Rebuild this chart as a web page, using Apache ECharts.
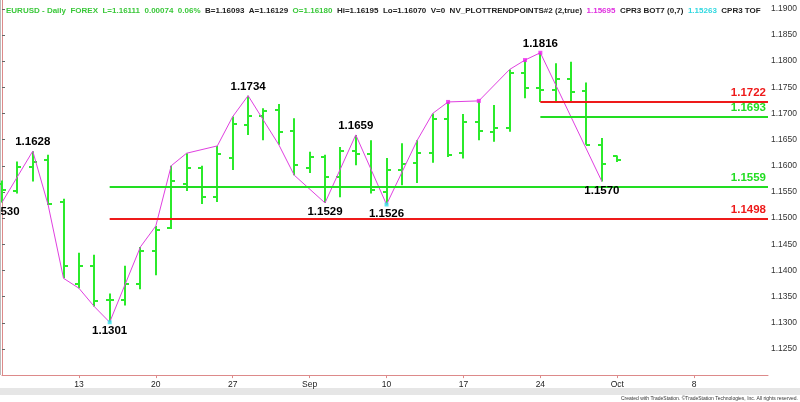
<!DOCTYPE html>
<html><head><meta charset="utf-8">
<script src="https://cdn.jsdelivr.net/npm/echarts@6/dist/echarts.min.js"></script>
<style>html,body{margin:0;padding:0;background:#fff}#c{width:800px;height:402px}</style>
</head><body><div id="c"></div>
<script>
// ---- data ----
const dates = ['Aug 6','Aug 7','Aug 8','Aug 9','Aug 10','Aug 13','Aug 14','Aug 15','Aug 16','Aug 17','Aug 20','Aug 21','Aug 22','Aug 23','Aug 24','Aug 27','Aug 28','Aug 29','Aug 30','Aug 31','Sep 3','Sep 4','Sep 5','Sep 6','Sep 7','Sep 10','Sep 11','Sep 12','Sep 13','Sep 14','Sep 17','Sep 18','Sep 19','Sep 20','Sep 21','Sep 24','Sep 25','Sep 26','Sep 27','Sep 28','Oct 1'];
const opens  = [1.1566,1.1552,1.1598,1.1611,1.1530,1.1374,1.1409,1.1344,1.1344,1.1375,1.1437,1.1482,1.1565,1.1595,1.1541,1.1615,1.1678,1.1696,1.1707,1.1667,1.1595,1.1616,1.1579,1.1628,1.1623,1.1549,1.1592,1.1605,1.1625,1.1689,1.1624,1.1684,1.1665,1.1672,1.1778,1.1749,1.1745,1.1765,1.1742,1.1640,1.1618];
const highs  = [1.1572,1.1608,1.1628,1.1621,1.1537,1.1434,1.1430,1.1356,1.1409,1.1445,1.1485,1.1600,1.1624,1.1600,1.1638,1.1694,1.1734,1.1710,1.1718,1.1691,1.1627,1.1621,1.1636,1.1659,1.1649,1.1615,1.1643,1.1649,1.1700,1.1722,1.1699,1.1724,1.1716,1.1784,1.1802,1.1816,1.1796,1.1799,1.1759,1.1653,1.16195];
const lows   = [1.1530,1.1547,1.1570,1.1525,1.1385,1.1366,1.1331,1.1301,1.1333,1.1364,1.1391,1.1479,1.1552,1.1527,1.1531,1.1592,1.1659,1.1649,1.1640,1.1582,1.1586,1.1529,1.1540,1.1601,1.1547,1.1526,1.1563,1.1567,1.1606,1.1617,1.1614,1.1649,1.1646,1.1665,1.1729,1.1722,1.1722,1.1722,1.1640,1.1570,1.1607];
const closes = [1.1553,1.1598,1.1608,1.1527,1.1409,1.1409,1.1342,1.1344,1.1375,1.1437,1.1478,1.1571,1.1595,1.1541,1.1623,1.1679,1.1696,1.1705,1.1665,1.1601,1.1616,1.1579,1.1628,1.1623,1.1554,1.1592,1.1603,1.1625,1.1689,1.1620,1.1684,1.1667,1.1672,1.1778,1.1749,1.1745,1.1765,1.1741,1.1640,1.1603,1.16111];

const tickIndex  = [5,10,15,20,25,30,35,40,45];
const tickLabels = ['13','20','27','Sep','10','17','24','Oct','8'];

const swingIdx   = [0,2,3,4,5,6,7,9,10,11,12,14,15,16,18,19,21,23,25,27,28,29,31,33,34,35,39];
const swingPrice = [1.1530,1.1628,1.1525,1.1385,1.1366,1.1331,1.1301,1.1445,1.1485,1.1600,1.1624,1.1638,1.1694,1.1734,1.1640,1.1582,1.1529,1.1659,1.1526,1.1649,1.1700,1.1722,1.1724,1.1784,1.1802,1.1816,1.1570];

const pivotIdx   = [0,2,7,16,21,23,25,35,39];
const pivotPrice = [1.1530,1.1628,1.1301,1.1734,1.1529,1.1659,1.1526,1.1816,1.1570];
const pivotSide  = ['below','above','below','above','below','above','below','above','below'];

const highDotIdx = [29,31,34,35];
const highDotPrice = [1.1722,1.1724,1.1802,1.1816];
const lowDotIdx = [7,25];
const lowDotPrice = [1.1301,1.1526];

const levelValues = [1.1722,1.1693,1.1559,1.1498];
const levelStart  = [35,35,7,7];
const levelKind   = ['resistance','support','support','resistance'];

const lastPrice = 1.16111;

// ---- styles ----
const GREEN = '#2bea2b';
const LGREEN = '#22dd22';
const RED = '#ee1a1a';
const MAGENTA = '#e040e0';
const CYAN = '#33e0e8';
const FONT = 'Liberation Sans, Arial, sans-serif';
const XMAX = 49.8;

const ohlc = dates.map((d,i)=>[i, opens[i], highs[i], lows[i], closes[i]]);

const chart = echarts.init(document.getElementById('c'), null, {renderer:'canvas'});
chart.setOption({
  animation:false,
  backgroundColor:'#fff',
  title:{
    left:1, top:2,
    text:'{g|EURUSD - Daily  FOREX  L=1.16111  0.00074  0.06%}  {k|B=1.16093  A=1.16129}  {g|O=1.16180}  {k|Hi=1.16195  Lo=1.16070  V=0  NV_PLOTTRENDPOINTS#2 (2,true)}  {m|1.15695}  {k|CPR3 BOT7 (0,7)}  {c|1.15263}  {k|CPR3 TOF}',
    textStyle:{
      fontFamily:FONT, fontSize:8,
      rich:{
        g:{color:'#3ac83a', fontSize:8, fontFamily:FONT},
        k:{color:'#222', fontSize:8, fontFamily:FONT},
        m:{color:'#e030e0', fontSize:8, fontFamily:FONT},
        c:{color:'#30d8e0', fontSize:8, fontFamily:FONT}
      }
    }
  },
  grid:{left:2, right:31, top:0, bottom:26.9, containLabel:false},
  xAxis:{
    type:'value', min:0, max:XMAX,
    axisLine:{show:true, onZero:false, lineStyle:{color:'#dd8a8a', width:1}},
    axisTick:{show:true, length:3, customValues:tickIndex, lineStyle:{color:'#dd8a8a'}},
    axisLabel:{customValues:tickIndex, margin:5, color:'#222', fontSize:8.5, fontFamily:FONT,
      formatter:v=>{const k=tickIndex.indexOf(v);return k>=0?tickLabels[k]:'';}},
    splitLine:{show:false}
  },
  yAxis:{
    type:'value', position:'right', min:1.12, max:1.19168, interval:0.005,
    axisLine:{show:true, lineStyle:{color:'#dd8a8a', width:1}},
    axisTick:{show:true, length:3, lineStyle:{color:'#666'}},
    axisLabel:{show:true, margin:3, color:'#333', fontSize:8.5, fontFamily:FONT,
      showMaxLabel:false, showMinLabel:false, formatter:v=>v.toFixed(4)},
    splitLine:{show:false}
  },
  series:[
    {
      type:'custom', name:'EURUSD', data:ohlc, encode:{x:0, y:[1,2,3,4]}, z:2,
      renderItem:(params, api)=>{
        const i = api.value(0);
        const x = Math.round(api.coord([i, api.value(2)])[0]);
        const yh = api.coord([i, api.value(2)])[1];
        const yl = api.coord([i, api.value(3)])[1];
        const yo = Math.round(api.coord([i, api.value(1)])[1]);
        const yc = Math.round(api.coord([i, api.value(4)])[1]);
        const st = {stroke:GREEN, lineWidth:2};
        return {type:'group', children:[
          {type:'line', shape:{x1:x, y1:yh, x2:x, y2:yl}, style:st},
          {type:'line', shape:{x1:x-4, y1:yo, x2:x, y2:yo}, style:st},
          {type:'line', shape:{x1:x, y1:yc, x2:x+4, y2:yc}, style:st}
        ]};
      }
    },
    {
      type:'line', name:'swing', z:3, symbol:'none',
      data:swingIdx.map((v,k)=>[v, swingPrice[k]]),
      lineStyle:{color:MAGENTA, width:1}
    },
    {
      type:'scatter', name:'hiDots', z:4, symbol:'rect', symbolSize:4,
      data:highDotIdx.map((v,k)=>[v, highDotPrice[k]]),
      itemStyle:{color:'#ee20ee'}
    },
    {
      type:'scatter', name:'loDots', z:4, symbol:'rect', symbolSize:4,
      data:lowDotIdx.map((v,k)=>[v, lowDotPrice[k]]),
      itemStyle:{color:CYAN}
    },
    {
      type:'scatter', name:'pivots', z:5, symbolSize:2, itemStyle:{color:'rgba(0,0,0,0)'},
      data:pivotIdx.map((v,k)=>({value:[v, pivotPrice[k]],
        label:{position: pivotSide[k]==='above'?'top':'bottom'}})),
      label:{show:true, distance:2, color:'#000', opacity:1, textBorderWidth:0, fontWeight:'bold', fontSize:11.5, fontFamily:FONT,
        formatter:p=>p.value[1].toFixed(4)},
      labelLayout:{hideOverlap:false}
    },
    {
      type:'line', name:'levels', data:[], z:2,
      markLine:{
        silent:true, symbol:'none', animation:false,
        data: levelValues.map((v,k)=>{
          const col = levelKind[k]==='resistance'?RED:LGREEN;
          return [
            {coord:[levelStart[k], v], lineStyle:{color:col, width:2, type:'solid'},
             label:{show:true, position:'insideEndTop', distance:[2,3], formatter:v.toFixed(4),
               color:col, fontWeight:'bold', fontSize:11.5, fontFamily:FONT}},
            {coord:[XMAX, v]}
          ];
        }).concat([[
          {coord:[40, lastPrice], lineStyle:{opacity:0},
           label:{show:true, position:'end', distance:0, formatter:lastPrice.toFixed(4),
             color:'#fff', backgroundColor:'#1ee01e', padding:[1,4,0,3], fontSize:8.5, fontFamily:FONT}},
          {coord:[XMAX, lastPrice]}
        ]])
      }
    }
  ],
  graphic:[
    {type:'rect', left:0, top:388, shape:{width:800, height:7}, style:{fill:'#e6e6e6'}, silent:true},
    {type:'rect', left:0, top:0, shape:{width:1, height:375}, style:{fill:'#bbbbbb'}, silent:true},
    {type:'text', right:2, top:396, style:{text:'Created with TradeStation. ©TradeStation Technologies, Inc. All rights reserved.', fontSize:5, fill:'#333', fontFamily:FONT}, silent:true}
  ]
});
</script></body></html>
